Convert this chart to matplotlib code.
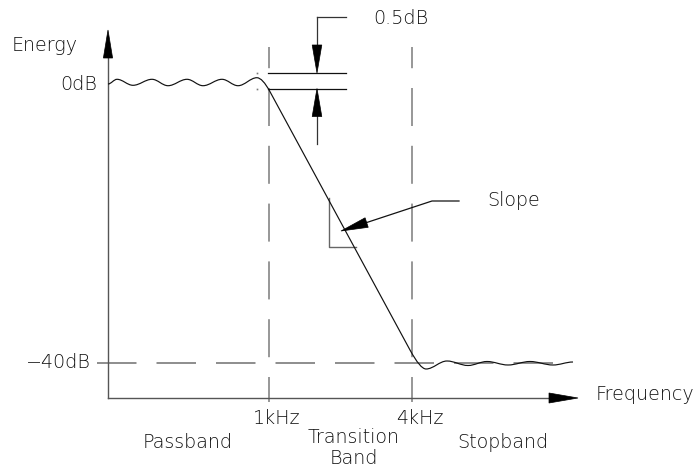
import matplotlib
matplotlib.use("Agg")
import matplotlib.pyplot as plt
from matplotlib.path import Path
from matplotlib.patches import PathPatch, Polygon
import numpy as np

plt.rcParams["lines.scale_dashes"] = False

# ---- drawing units: x to the right, y downward (one unit per pixel) ----
W, H = 696, 468
PT = 72.0 / 100.0          # points per drawing unit at 100 dpi

# response curve: passband ripple extrema
pass_x = [108, 117, 133, 152, 168, 187, 203, 222, 238, 257]
pass_y = [84.0, 79.3, 85.3, 79.3, 85.7, 79.3, 85.7, 79.3, 85.7, 77.7]
# straight roll-off through the transition band
trans_x = [270, 410]
trans_y = [91.7, 350.0]
# stopband ripple extrema
stop_x = [426, 447, 468, 487, 508, 530, 553, 573]
stop_y = [369.0, 361.0, 365.5, 361.5, 365.0, 361.5, 365.0, 362.0]

# axes and reference levels
origin_x, origin_y = 108, 398
y_axis_top, x_axis_end = 30, 578
level_0db_hi, level_0db_lo = 73.0, 88.5
level_stop = 362.5
band_edges = [269, 412]
edge_labels = ["1kHz", "4kHz"]
band_names = ["Passband", "Transition\nBand", "Stopband"]

INK = "#111111"
GREY = "#7a7a7a"
TXT = "#111111"

fig = plt.figure(figsize=(W / 100, H / 100), dpi=100)
ax = fig.add_axes([0, 0, 1, 1])
ax.set_xlim(0, W)
ax.set_ylim(H, 0)
ax.axis("off")


def arrow_head(tip, toward, length, half):
    tip = np.asarray(tip, float)
    d = np.asarray(toward, float) - tip
    d /= np.hypot(*d)
    n = np.array([-d[1], d[0]])
    base = tip + d * length
    ax.add_patch(Polygon([tip, base + n * half, base - n * half],
                         closed=True, fc="black", ec="black", lw=0.5, zorder=5))


def hsmooth(verts, codes, x0, y0, x1, y1, k=0.36):
    dx = x1 - x0
    verts += [(x0 + k * dx, y0), (x1 - k * dx, y1), (x1, y1)]
    codes += [Path.CURVE4] * 3


# ---- frequency response curve ----
verts = [(pass_x[0], pass_y[0])]
codes = [Path.MOVETO]
for i in range(1, len(pass_x)):
    hsmooth(verts, codes, pass_x[i - 1], pass_y[i - 1], pass_x[i], pass_y[i])
slope = (trans_y[1] - trans_y[0]) / (trans_x[1] - trans_x[0])
cx = trans_x[0] - (trans_y[0] - pass_y[-1]) / slope
verts += [(cx, pass_y[-1]), (trans_x[0], trans_y[0])]
codes += [Path.CURVE3] * 2
verts += [(trans_x[1], trans_y[1])]
codes += [Path.LINETO]
cx = trans_x[1] + (stop_y[0] - trans_y[1]) / slope
verts += [(cx, stop_y[0]), (stop_x[0], stop_y[0])]
codes += [Path.CURVE3] * 2
for i in range(1, len(stop_x)):
    hsmooth(verts, codes, stop_x[i - 1], stop_y[i - 1], stop_x[i], stop_y[i])
ax.add_patch(PathPatch(Path(verts, codes), fc="none", ec=INK, lw=0.85, zorder=4))

# ---- axes with arrows ----
ax.plot([origin_x, origin_x], [origin_y, y_axis_top + 20], color="#555555", lw=1.0, zorder=3)
arrow_head((origin_x, y_axis_top), (origin_x, y_axis_top + 10), 28, 4.6)
ax.plot([origin_x, x_axis_end - 20], [origin_y, origin_y], color="#555555", lw=1.0, zorder=3)
arrow_head((x_axis_end, origin_y), (x_axis_end - 10, origin_y), 29, 5.0)

# ---- dashed guides ----
ax.plot([97, 555], [level_stop, level_stop], color=GREY, lw=1.2, zorder=2,
        linestyle=(0, (39.5 * PT, 20 * PT)))
for xe in band_edges:
    ax.plot([xe, xe], [47, 402], color=GREY, lw=1.1, zorder=2,
            linestyle=(16.8 * PT, (38 * PT, 19.8 * PT)))

# ---- 0.5 dB ripple dimension ----
dim_x = 317
for yl in (level_0db_hi, level_0db_lo):
    ax.plot([268, 346], [yl, yl], color=INK, lw=0.9, zorder=3)
    ax.plot([257], [yl], marker="s", ms=1.2, color=GREY, mec="none")
ax.plot([dim_x, 346], [17, 17], color="#333333", lw=0.9)
ax.plot([dim_x, dim_x], [17, level_0db_hi - 20], color="#333333", lw=0.9)
arrow_head((dim_x, level_0db_hi), (dim_x, 17), 28, 4.8)
ax.plot([dim_x, dim_x], [level_0db_lo + 20, 144], color="#333333", lw=0.9)
arrow_head((dim_x, level_0db_lo), (dim_x, 144), 28, 4.8)

# ---- slope marker ----
ax.plot([329, 329, 356], [198, 247, 247], color="#666666", lw=1.0, zorder=3)
tip = (341, 231)
knee = (432, 201)
ax.plot([tip[0] + 20, knee[0], 459], [tip[1] - 6.6, knee[1], knee[1]], color=INK, lw=0.9)
arrow_head(tip, knee, 27, 5.0)

# ---- text ----
fkw = dict(family="DejaVu Sans", fontsize=13.8, color=TXT, fontweight="light")
ax.text(12, 45.5, "Energy", ha="left", va="center", **fkw)
ax.text(97, 84, "0dB", ha="right", va="center", **fkw)
ax.text(91, level_stop, "\u221240dB", ha="right", va="center", **fkw)
ax.text(596, 394, "Frequency", ha="left", va="center", **fkw)
ax.text(373, 18, "0.5dB", ha="left", va="center", **fkw)
ax.text(487, 201, "Slope", ha="left", va="center", **fkw)
for xe, lab in zip(band_edges, edge_labels):
    ax.text(xe + 8, 419, lab, ha="center", va="center", **fkw)
ax.text(188, 443, band_names[0], ha="center", va="center", **fkw)
ax.text(354, 448, band_names[1], ha="center", va="center", linespacing=1.1, **fkw)
ax.text(503, 443, band_names[2], ha="center", va="center", **fkw)

fig.savefig("out.png", dpi=100)
